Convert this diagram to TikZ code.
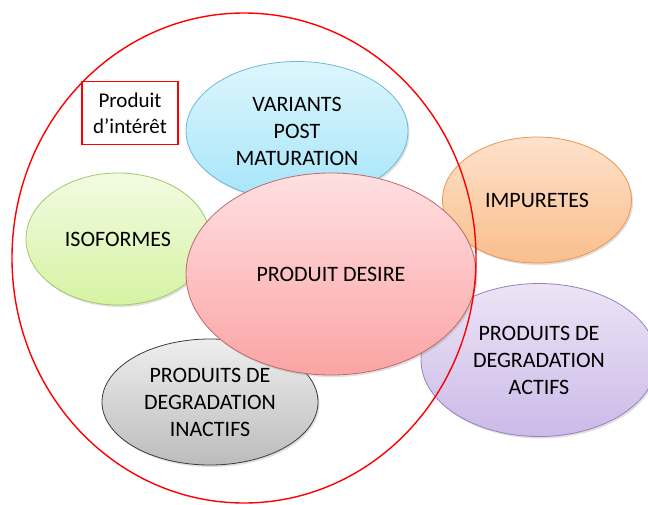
\documentclass[tikz,border=0pt]{standalone}
\usepackage{fontspec}
\setmainfont{Carlito}
\usetikzlibrary{shapes.geometric, shadows}

\definecolor{cyanhaut}{RGB}{222,246,253}
\definecolor{cyanbas}{RGB}{165,229,250}
\definecolor{cyanbord}{RGB}{110,185,215}
\definecolor{vertehaut}{RGB}{242,251,226}
\definecolor{vertebas}{RGB}{214,243,163}
\definecolor{vertbord}{RGB}{160,200,105}
\definecolor{rosehaut}{RGB}{255,224,226}
\definecolor{rosebas}{RGB}{251,164,164}
\definecolor{rosebord}{RGB}{190,105,105}
\definecolor{orangehaut}{RGB}{253,226,204}
\definecolor{orangebas}{RGB}{250,190,140}
\definecolor{orangebord}{RGB}{232,150,80}
\definecolor{mauvehaut}{RGB}{236,228,246}
\definecolor{mauvebas}{RGB}{204,186,232}
\definecolor{mauvebord}{RGB}{150,130,190}
\definecolor{grishaut}{RGB}{238,238,238}
\definecolor{grisbas}{RGB}{188,188,188}
\definecolor{grisbord}{RGB}{60,60,60}

\begin{document}
\begin{tikzpicture}[x=1pt,y=-1pt]
                \tikzset{bulle/.style={ellipse, inner sep=0pt, align=center, line width=0.8pt,
                    font=\fontsize{22}{27}\selectfont,
                    drop shadow={shadow xshift=1.5pt, shadow yshift=-2pt, opacity=0.25}}}
                \useasboundingbox (0,0) rectangle (648,504);
                \node[bulle, draw=cyanbord, top color=cyanhaut, bottom color=cyanbas,
                    minimum width=222pt, minimum height=139pt] (variants) at (297,131) {VARIANTS\\POST\\MATURATION};
                \node[bulle, draw=vertbord, top color=vertehaut, bottom color=vertebas,
                    minimum width=184pt, minimum height=132pt] (isoformes) at (118,239) {ISOFORMES};
                \node[bulle, draw=grisbord, top color=grishaut, bottom color=grisbas,
                    minimum width=216pt, minimum height=126pt] (inactifs) at (210,402) {PRODUITS DE\\DEGRADATION\\INACTIFS};
                \node[bulle, draw=orangebord, top color=orangehaut, bottom color=orangebas,
                    minimum width=189pt, minimum height=126pt] (impuretes) at (537,200) {IMPURETES};
                \node[bulle, draw=mauvebord, top color=mauvehaut, bottom color=mauvebas,
                    minimum width=236pt, minimum height=153pt] (actifs) at (539,360) {PRODUITS DE\\DEGRADATION\\ACTIFS};
                \node[bulle, draw=rosebord, top color=rosehaut, bottom color=rosebas,
                    minimum width=290pt, minimum height=202pt] (desire) at (331,274) {PRODUIT DESIRE};
                \node[ellipse, draw=red, line width=1.4pt, minimum width=464pt, minimum height=490pt] (zone) at (244,258) {};
                \node[draw=red, line width=1.4pt, minimum width=96pt, minimum height=63pt, align=center,
                    font=\fontsize{21}{26}\selectfont] (interet) at (130,113) {Produit\\d’intérêt};
            \end{tikzpicture}
\end{document}
